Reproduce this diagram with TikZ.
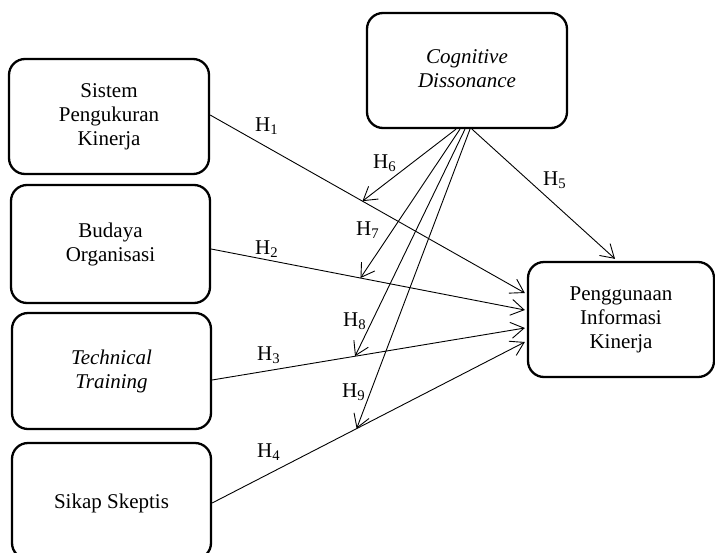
\documentclass[tikz,border=0pt]{standalone}
\usepackage{fontspec}
\setmainfont{Liberation Serif}
\usetikzlibrary{arrows.meta,calc}
\newcommand{\boxstrut}{\rule[-4.5pt]{0pt}{24pt}}
\begin{document}
\begin{tikzpicture}[x=1pt,y=-1pt,
  box/.style={draw, line width=2.3pt, rounded corners=16pt, align=center, inner sep=0pt,
    font=\fontsize{21}{24}\selectfont,
    execute at begin node=\boxstrut, execute at end node=\boxstrut},
  itbox/.style={box, font=\fontsize{21}{24}\selectfont\itshape},
  conn/.style={line width=0.9pt, -{Straight Barb[length=13pt,width=16pt,line width=0.9pt]}},
  hlab/.style={anchor=base west, inner sep=0pt, font=\fontsize{21}{24}\selectfont}]
\useasboundingbox (0,0) rectangle (715,552);
\clip (0,0) rectangle (715,552);
% boxes
\node[box, minimum width=200pt, minimum height=115pt] (sis) at (109,116.5) {Sistem\\Pengukuran\\Kinerja};
\node[box, minimum width=199pt, minimum height=118pt] (bud) at (110.5,244) {Budaya\\Organisasi};
\node[itbox, minimum width=199pt, minimum height=116pt] (tec) at (111.5,371) {Technical\\Training};
\node[box, minimum width=199pt, minimum height=116pt] (sik) at (111.5,501) {Sikap Skeptis};
\node[itbox, minimum width=200pt, minimum height=115pt] (cog) at (467,70.5) {Cognitive\\Dissonance};
\node[box, minimum width=186pt, minimum height=115pt] (pig) at (621,319.5) {Penggunaan\\Informasi\\Kinerja};
% endpoints
\coordinate (s1) at ([yshift=1.5pt]sis.east);
\coordinate (s2) at ([yshift=-5pt]bud.east);
\coordinate (s3) at ([yshift=-9pt]tec.east);
\coordinate (s4) at ([yshift=-2pt]sik.east);
\coordinate (e1) at ([xshift=-2pt,yshift=26.5pt]pig.west);
\coordinate (e2) at ([xshift=-2pt,yshift=9.5pt]pig.west);
\coordinate (e3) at ([xshift=-2pt,yshift=-8.5pt]pig.west);
\coordinate (e4) at ([xshift=-2pt,yshift=-22.5pt]pig.west);
\coordinate (m1) at ($(s1)!0.484!(e1)$);
\coordinate (m2) at ($(s2)!0.476!(e2)$);
\coordinate (m3) at ($(s3)!0.457!(e3)$);
\coordinate (m4) at ($(s4)!0.462!(e4)$);
% main arrows
\draw[conn] (s1) -- (e1);
\draw[conn] (s2) -- (e2);
\draw[conn] (s3) -- (e3);
\draw[conn] (s4) -- (e4);
\draw[conn] ([xshift=5pt]cog.south) -- ([xshift=-6pt,yshift=2pt]pig.north);
% moderating arrows
\draw[conn] ([xshift=-11pt]cog.south) -- (m1);
\draw[conn] ([xshift=-7pt]cog.south) -- (m2);
\draw[conn] ([xshift=-2pt]cog.south) -- (m3);
\draw[conn] ([xshift=3pt]cog.south) -- (m4);
% labels
\node[hlab] (h1) at (255,131) {H\textsubscript{1}};
\node[hlab] (h2) at (255,254) {H\textsubscript{2}};
\node[hlab] (h3) at (257,360) {H\textsubscript{3}};
\node[hlab] (h4) at (257,457) {H\textsubscript{4}};
\node[hlab] (h5) at (543,185) {H\textsubscript{5}};
\node[hlab] (h6) at (373,168) {H\textsubscript{6}};
\node[hlab] (h7) at (356,235) {H\textsubscript{7}};
\node[hlab] (h8) at (343,326) {H\textsubscript{8}};
\node[hlab] (h9) at (342,397) {H\textsubscript{9}};
\end{tikzpicture}
\end{document}
